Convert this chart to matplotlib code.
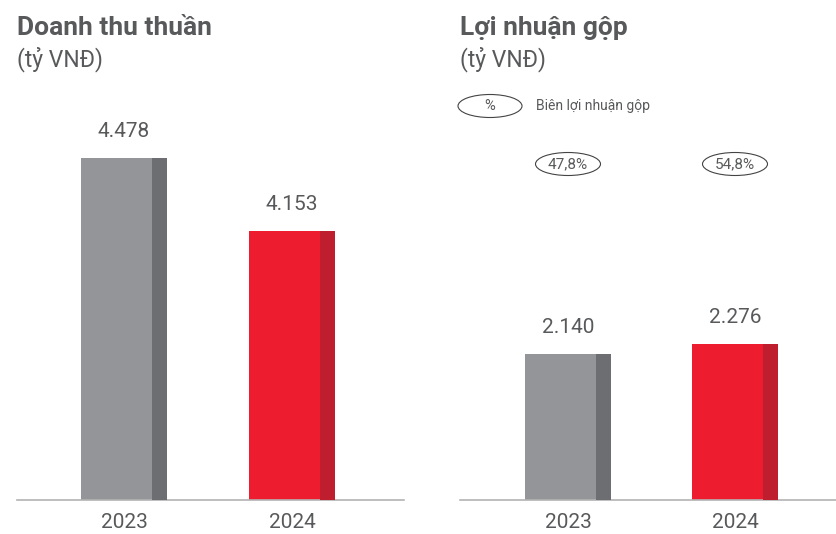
import matplotlib
matplotlib.use("Agg")
import matplotlib.pyplot as plt
from matplotlib.patches import Ellipse

#%% DATA
years = ["2023", "2024"]
revenue = [4478, 4153]
gross_profit = [2140, 2276]
gross_margin = ["47,8%", "54,8%"]
revenue_labels = ["4.478", "4.153"]
profit_labels = ["2.140", "2.276"]

#%% STYLE
plt.rcParams["font.family"] = ["Roboto", "DejaVu Sans"]
TXT = "#58595b"
LIGHT = ["#939598", "#ed1c2e"]
DARK = ["#6d6e71", "#be1e2d"]
W = 0.515    # bar width
DW = 0.09    # dark strip on the right side of each bar

fig = plt.figure(figsize=(8.36, 5.34), dpi=100)
W_PX, H_PX = 836, 534

def px_axes(x0, x1, y_top, y_bot):
    return fig.add_axes([x0 / W_PX, 1 - y_bot / H_PX, (x1 - x0) / W_PX, (y_bot - y_top) / H_PX])

def draw_bars(ax, values, labels):
    x = range(len(values))
    ax.bar(x, values, width=W, color=LIGHT, zorder=2)
    ax.bar([i + W / 2 - DW / 2 for i in x], values, width=DW, color=DARK, zorder=3)
    for i, (v, lab) in enumerate(zip(values, labels)):
        ax.annotate(lab, (i, v), xytext=(0, 19), textcoords="offset points",
                    ha="center", va="center", fontsize=15, color=TXT)
    for s in ["top", "right", "left"]:
        ax.spines[s].set_visible(False)
    ax.spines["bottom"].set_color("#b3b3b3")
    ax.spines["bottom"].set_linewidth(1.2)
    ax.set_yticks([])
    ax.set_xticks(list(x))
    ax.set_xticklabels(years, fontsize=15, color=TXT)
    ax.tick_params(axis="x", length=0, pad=9)
    ax.patch.set_visible(False)

#%% LEFT: Doanh thu thuần
ax1 = px_axes(17, 404, 100, 500)
draw_bars(ax1, revenue, revenue_labels)
ax1.set_xlim(-0.637, 1.667)
ax1.set_ylim(2955, 4736)

#%% RIGHT: Lợi nhuận gộp
ax2 = px_axes(460, 836, 100, 500)
draw_bars(ax2, gross_profit, profit_labels)
ax2.set_xlim(-0.647, 1.605)
ax2.set_ylim(0, 5850)

#%% TITLES
for x0, title in [(17, "Doanh thu thuần"), (460, "Lợi nhuận gộp")]:
    fig.text(x0 / W_PX, 1 - 28 / H_PX, title, fontsize=19, fontweight="bold",
             color=TXT, va="center", ha="left")
    fig.text(x0 / W_PX, 1 - 59 / H_PX, "(tỷ VNĐ)", fontsize=16.5, color=TXT,
             va="center", ha="left")

#%% MARGIN ELLIPSES
def ellipse(cx, cy, w, h, label, fs):
    fig.add_artist(Ellipse((cx / W_PX, 1 - cy / H_PX), w / W_PX, h / H_PX,
                           transform=fig.transFigure, fc="white", ec="#444444", lw=0.8))
    fig.text(cx / W_PX, 1 - cy / H_PX, label, fontsize=fs, color=TXT, ha="center", va="center")

ellipse(490, 106, 64, 23, "%", 10.5)
fig.text(536 / W_PX, 1 - 106 / H_PX, "Biên lợi nhuận gộp", fontsize=10, color=TXT,
         ha="left", va="center")
for cx, lab in zip([568, 735], gross_margin):
    ellipse(cx, 164, 65, 23, lab, 11)

fig.savefig("out.png", dpi=100)
